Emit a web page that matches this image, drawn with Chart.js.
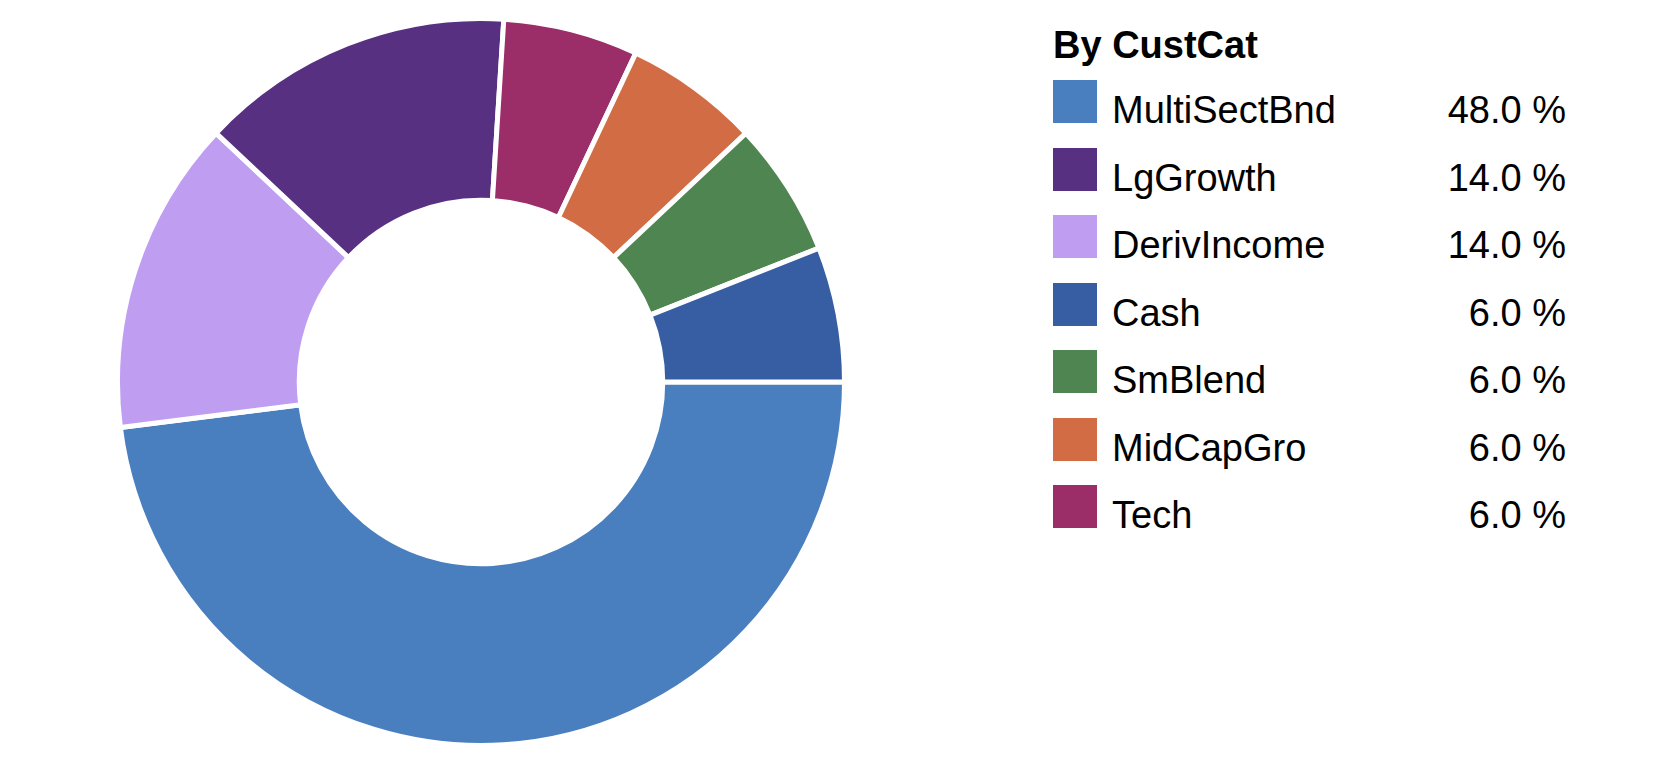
<!DOCTYPE html>
<html lang="en">
<head>
    <meta charset="UTF-8">
    <title>By CustCat</title>
    <style>
        body {
            margin: 0;
            padding: 0;
            background-color: #fff;
            font-family: "Liberation Sans", Arial, sans-serif;
            color: #000;
        }

        #page {
            position: relative;
            width: 1662px;
            height: 770px;
            overflow: hidden;
        }

        #chartBox {
            position: absolute;
            left: 115px;
            top: 16px;
            width: 732px;
            height: 732px;
        }

        #legend {
            position: absolute;
            left: 0;
            top: 0;
        }

        .legend-title {
            position: absolute;
            left: 1053px;
            top: 23px;
            font-size: 38px;
            font-weight: bold;
            line-height: 44px;
            white-space: nowrap;
        }

        .swatch {
            position: absolute;
            left: 1053px;
            width: 44px;
            height: 43px;
        }

        .label, .pct {
            position: absolute;
            font-size: 38px;
            line-height: 44px;
            white-space: nowrap;
        }

        .label {
            left: 1112px;
        }

        .pct {
            left: 1300px;
            width: 266px;
            text-align: right;
        }
    </style>
    <script src="https://cdn.jsdelivr.net/npm/chart.js"></script>
</head>
<body>
<div id="page">
    <div id="chartBox"><canvas id="donut"></canvas></div>
    <div id="legend"></div>
</div>

<script>
    // legend order (sorted by share)
    const legendTitle = 'By CustCat';
    const categories = ['MultiSectBnd', 'LgGrowth', 'DerivIncome', 'Cash', 'SmBlend', 'MidCapGro', 'Tech'];
    const shares = [48.0, 14.0, 14.0, 6.0, 6.0, 6.0, 6.0];
    const colors = ['#4A7FBF', '#583082', '#BF9EF2', '#375EA3', '#4F8551', '#D16C44', '#9B2D68'];

    // order the slices go round the ring, clockwise from 3 o'clock
    const sliceOrder = ['MultiSectBnd', 'DerivIncome', 'LgGrowth', 'Tech', 'MidCapGro', 'SmBlend', 'Cash'];

    // legend
    var legend = document.getElementById('legend');
    var title = document.createElement('div');
    title.className = 'legend-title';
    title.textContent = legendTitle;
    legend.appendChild(title);

    categories.forEach(function(name, i) {
        var rowTop = 80 + i * 67.5;

        var sw = document.createElement('div');
        sw.className = 'swatch';
        sw.style.top = rowTop + 'px';
        sw.style.backgroundColor = colors[i];
        legend.appendChild(sw);

        var lab = document.createElement('div');
        lab.className = 'label';
        lab.style.top = (rowTop + 8) + 'px';
        lab.textContent = name;
        legend.appendChild(lab);

        var pct = document.createElement('div');
        pct.className = 'pct';
        pct.style.top = (rowTop + 8) + 'px';
        pct.textContent = shares[i].toFixed(1) + ' %';
        legend.appendChild(pct);
    });

    // chart
    const sliceIdx = sliceOrder.map(n => categories.indexOf(n));

    var ctx = document.getElementById('donut').getContext('2d');
    var donut = new Chart(ctx, {
        type: 'doughnut',
        data: {
            labels: sliceIdx.map(i => categories[i]),
            datasets: [{
                data: sliceIdx.map(i => shares[i]),
                backgroundColor: sliceIdx.map(i => colors[i]),
                borderColor: '#ffffff',
                borderWidth: 5
            }]
        },
        options: {
            responsive: true,
            maintainAspectRatio: false,
            animation: false,
            rotation: 90,
            cutout: '50%',
            layout: { padding: 0 },
            plugins: {
                legend: { display: false },
                tooltip: { enabled: false }
            },
            events: []
        }
    });
</script>
</body>
</html>
